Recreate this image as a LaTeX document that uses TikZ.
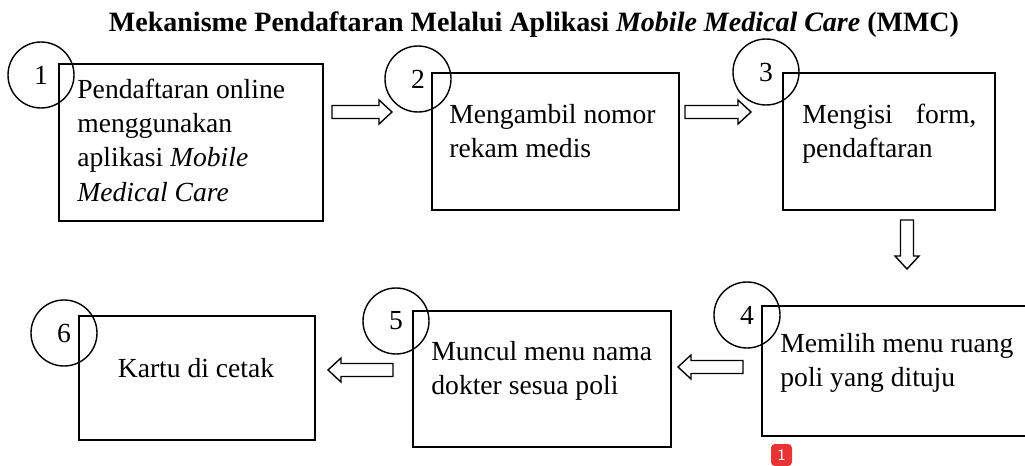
\documentclass[tikz,border=0pt]{standalone}
\usepackage{fontspec}
\setmainfont{Liberation Serif}
\usepackage{tikz}
\usetikzlibrary{calc}
\definecolor{merah}{RGB}{232,52,52}
\tikzset{
	every node/.style = {font=\fontsize{13.8}{17.2}\selectfont},
	kotak/.style = {draw, line width=0.8pt, anchor=north west, inner sep=0pt},
	nomor/.style = {draw, circle, line width=0.7pt, minimum size=33pt, inner sep=0pt},
	teks/.style = {anchor=base west, inner sep=0pt, text width=125pt, align=flush left},
	panah/.style = {draw, line width=0.7pt,
		to path={let \p1=(\tikztostart), \p2=(\tikztotarget),
			\n1={atan2(\y2-\y1,\x2-\x1)}, \n2={veclen(\x2-\x1,\y2-\y1)-6.5pt} in
			([shift={(\p1)},rotate=\n1]0pt,3.25pt) -- ([shift={(\p1)},rotate=\n1]\n2,3.25pt)
			-- ([shift={(\p1)},rotate=\n1]\n2,6pt) -- (\p2)
			-- ([shift={(\p1)},rotate=\n1]\n2,-6pt) -- ([shift={(\p1)},rotate=\n1]\n2,-3.25pt)
			-- ([shift={(\p1)},rotate=\n1]0pt,-3.25pt) -- cycle}}
}

\begin{document}
\begin{tikzpicture}[x=0.5pt, y=-0.5pt]
	\useasboundingbox (0,0) rectangle (1025,466);

	\node[anchor=base, font=\fontsize{14}{16}\selectfont\bfseries] (judul) at (534,32)
		{Mekanisme Pendaftaran Melalui Aplikasi \textit{Mobile Medical Care} (MMC)};

	% kotak langkah
	\node[kotak, minimum width=132pt, minimum height=78.5pt] (box1) at (58,63) {};
	\node[kotak, minimum width=123.5pt, minimum height=68.5pt] (box2) at (431,72) {};
	\node[kotak, minimum width=106pt, minimum height=68.5pt] (box3) at (782,72) {};
	\node[kotak, minimum width=134.5pt, minimum height=65pt] (box4) at (761,305) {};
	\node[kotak, minimum width=129pt, minimum height=68pt] (box5) at (412,310) {};
	\node[kotak, minimum width=118pt, minimum height=62pt] (box6) at (78,315) {};

	\node[teks] (txt1) at (77,98) {Pendaftaran online\\menggunakan\\aplikasi \textit{Mobile}\\\textit{Medical Care}};
	\node[teks] (txt2) at (449,123) {Mengambil nomor\\rekam medis};
	\node[teks, text width=87pt] (txt3) at (802,123) {Mengisi\hfill form,\\pendaftaran};
	\node[teks] (txt4) at (780,352) {Memilih menu ruang\\poli yang dituju};
	\node[teks] (txt5) at (431,360) {Muncul menu nama\\dokter sesua poli};
	\node[anchor=base, inner sep=0pt] (txt6) at (196,377) {Kartu di cetak};

	% nomor
	\node[nomor] (num1) at (41,75) {1};
	\node[nomor] (num2) at (418,79) {2};
	\node[nomor] (num3) at (766,72) {3};
	\node[nomor] (num4) at (747,315) {4};
	\node[nomor] (num5) at (396,321) {5};
	\node[nomor] (num6) at (64,333) {6};

	% panah
	\coordinate (p12a) at (332,112);
	\coordinate (p12b) at (392,112);
	\coordinate (p23a) at (685,112);
	\coordinate (p23b) at (751,112);
	\coordinate (p34a) at (907,220);
	\coordinate (p34b) at (907,269);
	\coordinate (p45a) at (743,367);
	\coordinate (p45b) at (678,367);
	\coordinate (p56a) at (393,370);
	\coordinate (p56b) at (328,370);
	\path[panah] (p12a) to (p12b);
	\path[panah] (p23a) to (p23b);
	\path[panah] (p34a) to (p34b);
	\path[panah] (p45a) to (p45b);
	\path[panah] (p56a) to (p56b);

	\node[fill=merah, rounded corners=2pt, minimum width=10.5pt, minimum height=11pt, inner sep=0pt,
		text=white, font=\sffamily\fontsize{8}{9}\selectfont] (tanda) at (781.5,455) {1};
\end{tikzpicture}
\end{document}
